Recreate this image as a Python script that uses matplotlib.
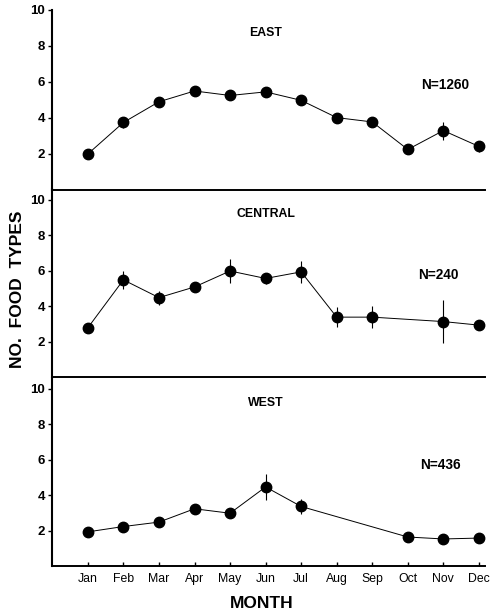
import matplotlib
matplotlib.use("Agg")
import matplotlib.pyplot as plt

plt.rcParams['font.family'] = ['Liberation Sans', 'DejaVu Sans']

months = ['Jan', 'Feb', 'Mar', 'Apr', 'May', 'Jun', 'Jul', 'Aug', 'Sep', 'Oct', 'Nov', 'Dec']

# ---- data ----
east_x = [1, 2, 3, 4, 5, 6, 7, 8, 9, 10, 11, 12]
east_y = [2.0, 3.75, 4.9, 5.5, 5.25, 5.45, 4.98, 4.02, 3.78, 2.25, 3.3, 2.42]
east_err = [0.08, 0.3, 0.2, 0.1, 0.1, 0.1, 0.15, 0.12, 0.3, 0.1, 0.5, 0.3]

central_x = [1, 2, 3, 4, 5, 6, 7, 8, 9, 11, 12]
central_y = [2.8, 5.5, 4.5, 5.1, 6.0, 5.58, 5.95, 3.4, 3.4, 3.15, 2.95]
central_err = [0.1, 0.5, 0.4, 0.15, 0.65, 0.3, 0.6, 0.55, 0.6, 1.2, 0.1]

west_x = [1, 2, 3, 4, 5, 6, 7, 10, 11, 12]
west_y = [1.95, 2.25, 2.5, 3.25, 3.0, 4.48, 3.38, 1.66, 1.55, 1.6]
west_err = [0.1, 0.1, 0.1, 0.1, 0.1, 0.75, 0.4, 0.3, 0.3, 0.1]

regions = ['EAST', 'CENTRAL', 'WEST']
sample_sizes = ['N=1260', 'N=240', 'N=436']

fig = plt.figure(figsize=(4.9, 6.16), dpi=100)

# [left, bottom, width, height], ymax
panels = [
    ([0.106, 0.6916, 0.8837, 0.2922], 10.0),
    ([0.106, 0.3872, 0.8837, 0.3060], 10.62),
    ([0.106, 0.0804, 0.8837, 0.3060], 10.62),
]
series = [(east_x, east_y, east_err), (central_x, central_y, central_err),
          (west_x, west_y, west_err)]

axes = []
for i, ((rect, ymax), (xs, ys, es)) in enumerate(zip(panels, series)):
    ax = fig.add_axes(rect)
    ax.errorbar(xs, ys, yerr=es, fmt='-o', color='black', lw=0.7,
                elinewidth=0.8, capsize=0, markersize=7.5)
    ax.set_xlim(-0.01, 12.17)
    ax.set_ylim(0, ymax)
    ax.set_yticks([2, 4, 6, 8, 10])
    ax.tick_params(axis='y', direction='out', length=3, width=1, labelsize=9.5, pad=2)
    for lab in ax.get_yticklabels():
        lab.set_fontweight('bold')
    ax.spines['top'].set_visible(False)
    ax.spines['right'].set_visible(False)
    ax.spines['left'].set_linewidth(1.5)
    ax.spines['bottom'].set_linewidth(1.4)
    ax.set_xticks(range(1, 13))
    if i < 2:
        ax.tick_params(axis='x', bottom=False, labelbottom=False)
    else:
        ax.set_xticklabels(months)
        ax.tick_params(axis='x', direction='in', length=3, width=1, labelsize=8.8, pad=5)
    ax.patch.set_alpha(0)
    axes.append(ax)

# region labels and sample sizes (pixel positions converted to figure coords)
label_pos = [(266, 33), (266, 214), (266, 403)]
n_pos = [(445, 85), (438, 275), (440, 465)]
for name, n, (lx, ly), (nx, ny) in zip(regions, sample_sizes, label_pos, n_pos):
    fig.text(lx / 490, 1 - ly / 616, name, ha='center', va='center',
             fontsize=8.8, fontweight='bold')
    fig.text(nx / 490, 1 - ny / 616, n, ha='center', va='center',
             fontsize=9.8, fontweight='bold')

fig.text(18 / 490, 1 - 289 / 616, 'NO.  FOOD  TYPES', rotation=90, ha='center',
         va='center', fontsize=12.5, fontweight='bold')
fig.text(262 / 490, 1 - 604 / 616, 'MONTH', ha='center', va='center',
         fontsize=12.5, fontweight='bold')

fig.savefig('out.png', dpi=100)
